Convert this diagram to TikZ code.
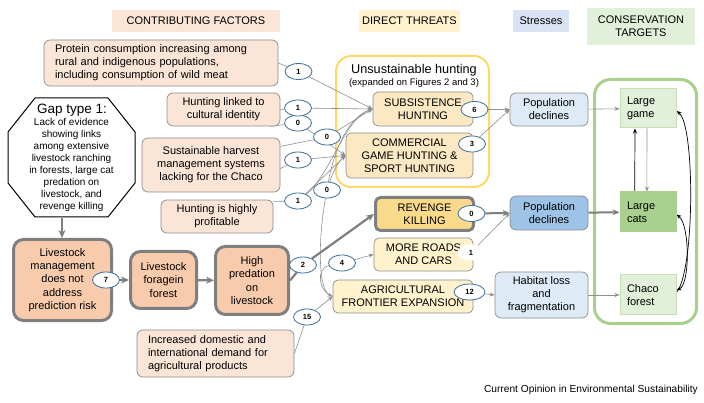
\documentclass[tikz,border=0pt]{standalone}
\usepackage{fontspec}
\setmainfont{Liberation Sans}
\usetikzlibrary{shapes.geometric,arrows.meta}
\definecolor{peachL}{HTML}{FBE5D6}
\definecolor{salmon}{HTML}{F8CBAD}
\definecolor{boxG}{HTML}{8C8C8C}
\definecolor{thickG}{HTML}{7F7F7F}
\definecolor{tanY}{HTML}{FCE9C3}
\definecolor{revY}{HTML}{F9DA8B}
\definecolor{creamL}{HTML}{FFF2CC}
\definecolor{blueL}{HTML}{DEEBF7}
\definecolor{blueM}{HTML}{9DC3E6}
\definecolor{blueH}{HTML}{DAE3F3}
\definecolor{greenL}{HTML}{E2F0D9}
\definecolor{greenB}{HTML}{C5E0B4}
\definecolor{greenM}{HTML}{A9D18E}
\definecolor{yellowB}{HTML}{FFD966}
\definecolor{badgeB}{HTML}{41719C}
\definecolor{lineG}{HTML}{8F8F8F}
\pgfdeclarelayer{back}
\pgfdeclarelayer{conn}
\pgfsetlayers{back,conn,main}
\tikzset{
 sz/.style 2 args={minimum width=#1pt,minimum height=#2pt},
 txt/.style={font=\fontsize{11}{13}\selectfont},
 hdr/.style={fill=#1, inner sep=0pt, font=\fontsize{11}{13}\selectfont, align=center},
 factor/.style={rectangle, draw=boxG, fill=peachL, line width=0.7pt, rounded corners=6pt, txt, align=center, inner sep=2pt},
 lvst/.style={rectangle, draw=thickG, fill=salmon, line width=3pt, rounded corners=10pt, font=\fontsize{11}{13.2}\selectfont, align=center, inner sep=2pt},
 threat/.style={rectangle, draw=boxG, fill=#1, line width=0.7pt, rounded corners=5pt, txt, align=center, inner sep=2pt},
 stress/.style={rectangle, draw=boxG, fill=#1, line width=0.7pt, rounded corners=6pt, txt, align=center, inner sep=2pt},
 target/.style={rectangle, draw=greenB, fill=#1, line width=1pt, txt, align=left, text width=42pt, inner xsep=7pt},
 badge/.style={ellipse, draw=badgeB, fill=white, line width=0.8pt, minimum width=27pt, minimum height=16pt, inner sep=0pt, font=\fontsize{7.5}{8}\selectfont\bfseries},
 conn/.style={draw=lineG, line width=0.6pt, -{Stealth[length=5pt,width=4pt]}},
 cline/.style={draw=lineG, line width=0.6pt},
 heavy/.style={draw=thickG, line width=2.2pt, -{Stealth[length=8pt,width=7pt]}},
 tarrow/.style={draw=black, line width=0.7pt, -{Stealth[length=5pt,width=4pt]}},
}
\begin{document}
\begin{tikzpicture}[x=1pt,y=-1pt]
\useasboundingbox (0,0) rectangle (704,403);
\begin{pgfonlayer}{back}
\fill[white] (0,0) rectangle (704,403);
\node[draw=yellowB, fill=white, line width=2pt, rounded corners=15pt, sz={153}{131}] (hunt) at (412.5,121.5) {};
\node[draw=greenM, line width=3pt, rounded corners=16pt, sz={102}{244}] (tgt) at (645.5,201.5) {};
\end{pgfonlayer}

% headers
\node[hdr=peachL, sz={168}{22}] (hCF) at (196,21) {CONTRIBUTING FACTORS};
\node[hdr=creamL, sz={101}{22}] (hDT) at (409.5,21) {DIRECT THREATS};
\node[hdr=blueH, sz={56}{22}] (hST) at (541,21) {Stresses};
\node[hdr=greenL, sz={108}{37}] (hCT) at (641,26.5) {CONSERVATION\\TARGETS};

% container title
\node[font=\fontsize{12.7}{14}\selectfont, inner sep=0pt] (ht) at (414,70) {Unsustainable hunting};
\node[font=\fontsize{9.5}{11}\selectfont, inner sep=0pt] (hs) at (414,83) {(expanded on Figures 2 and 3)};

% contributing factors
\node[factor, sz={234}{46}, text width=212pt, inner xsep=11pt, align=left] (protein) at (161,63) {Protein consumption increasing among\\rural and indigenous populations,\\including consumption of wild meat};
\node[factor, sz={113}{33}] (cultural) at (223.5,109.5) {Hunting linked to\\cultural identity};
\node[factor, sz={138}{54}] (sustain) at (211,165) {Sustainable harvest\\management systems\\lacking for the Chaco};
\node[factor, sz={112}{33}] (profit) at (217,216.5) {Hunting is highly\\profitable};
\node[factor, sz={157}{47}, text width=135pt, inner xsep=11pt, align=left] (demand) at (215.5,353.5) {Increased domestic and\\international demand for\\agricultural products};

% gap octagon
\draw[black, line width=1pt, fill=white] (35,98) -- (108,98) -- (135,132) -- (135,183) -- (108,217) -- (35,217) -- (8,183) -- (8,132) -- cycle;
\node[font=\fontsize{13.5}{15}\selectfont, inner sep=0pt] (gapT) at (72,110) {Gap type 1:};
\node[font=\fontsize{10}{12.1}\selectfont, align=center, inner sep=0pt] (gap) at (71.5,165) {Lack of evidence\\showing links\\among extensive\\livestock ranching\\in forests, large cat\\predation on\\livestock, and\\revenge killing};
\coordinate (gapbot) at (62,218);

% livestock chain
\node[lvst, sz={98}{81}] (mgmt) at (62.5,280) {Livestock\\management\\does not\\address\\prediction risk};
\node[lvst, sz={66}{57}] (forage) at (163.5,280) {Livestock\\foragein\\forest};
\node[lvst, sz={73}{68}] (pred) at (252,280.5) {High\\predation\\on\\livestock};

% direct threats
\node[threat=tanY, sz={100}{34}] (subs) at (423,109) {SUBSISTENCE\\HUNTING};
\node[threat=tanY, sz={127}{45}] (comm) at (409.5,155.5) {COMMERCIAL\\GAME HUNTING \&\\SPORT HUNTING};
\node[threat=revY, draw=thickG, line width=3pt, sz={98}{33}] (revenge) at (424.5,214) {REVENGE\\KILLING};
\node[threat=creamL, sz={99}{33}] (roads) at (423.5,254.5) {MORE ROADS\\AND CARS};
\node[threat=creamL, sz={140}{33}] (agri) at (403,296.5) {AGRICULTURAL\\FRONTIER EXPANSION};

% stresses
\node[stress=blueL, sz={78}{33}] (popT) at (549,109.5) {Population\\declines};
\node[stress=blueM, sz={78}{34}] (popM) at (549,213) {Population\\declines};
\node[stress=blueL, sz={93}{46}] (hab) at (541.5,295) {Habitat loss\\and\\fragmentation};

% targets
\node[target=greenL, sz={56}{39}] (game) at (648,108.5) {Large\\game};
\node[target=greenM, draw=greenM, sz={56}{40}] (cats) at (648,212) {Large\\cats};
\node[target=greenL, sz={56}{40}] (chaco) at (648,295) {Chaco\\forest};

% badges
\node[badge] (b1a) at (298.5,71.5) {1};
\node[badge] (b0a) at (298,123) {0};
\node[badge] (b1b) at (298,108) {1};
\node[badge] (b0b) at (327,137) {0};
\node[badge] (b1c) at (298,160) {1};
\node[badge] (b0c) at (327,190) {0};
\node[badge] (b1d) at (298,201) {1};
\node[badge] (b7) at (106,280) {7};
\node[badge] (b2) at (303,265) {2};
\node[badge] (b4) at (342,263) {4};
\node[badge] (b15) at (307,317) {15};
\node[badge] (b6) at (474.5,109.5) {6};
\node[badge] (b3) at (472,144) {3};
\node[badge] (b0r) at (471.5,213.5) {0};
\node[badge, draw=none] (b1r) at (471,252.5) {1};
\node[badge, minimum width=31pt] (b12) at (469.5,292) {12};

% source
\node[anchor=east, font=\fontsize{10.2}{12}\selectfont, inner sep=0pt] (src) at (698,390) {Current Opinion in Environmental Sustainability};

% connectors
\begin{pgfonlayer}{conn}
\draw[heavy] (gapbot) -- (mgmt.north -| gapbot);
\draw[heavy] (mgmt) -- (forage);
\draw[heavy] (forage) -- (pred);
\draw[conn] (protein.east) -- (b1a) -- (subs.west);
\draw[conn] (cultural.east) -- (b1b) -- (subs.west);
\draw[conn] (cultural.-20) -- (b0a) -- (comm.west);
\draw[conn] (sustain.15) -- (b0b) -- (subs.west);
\draw[conn] (sustain.-3) -- (b1c) -- (comm.west);
\draw[conn] (profit.15) -- (b1d) -- (comm.west);
\draw[conn] (b1d) .. controls (330,175) and (345,118) .. (subs.west);
\draw[conn] (b0c) .. controls (332,160) and (345,118) .. (subs.west);
\draw[conn] (b0c) .. controls (333,172) and (338,162) .. (comm.west);
\draw[conn] (b0c) .. controls (318,240) and (318,290) .. (agri.west);
\draw[cline] (agri.west) .. controls (318,292) and (316,268) .. (b4);
\draw[conn] (b4) -- (roads.west);
\draw[conn] (demand.east) -- (b15) -- (agri.west);
\draw[heavy] (pred.east) -- (b2) -- (revenge.west);
\draw[conn] (b6) -- (popT.west);
\draw[conn] (b3) -- (popT.west);
\draw[heavy, line width=2pt, -{Stealth[length=7pt,width=6pt]}] (b0r) -- (popM.west);
\draw[conn] (b1r) -- (popM.west);
\draw[conn] (b12) -- (hab.west);
\draw[conn] (popT) -- (game);
\draw[heavy, line width=2pt, -{Stealth[length=7pt,width=6pt]}] (popM) -- (cats);
\draw[conn] (hab) -- (chaco);
\draw[tarrow] (cats.123) -- (game.-123);
\draw[conn] (game.-93) -- (cats.93);
\draw[tarrow] (chaco.5) .. controls (695,270) and (695,125) .. (game.-5);
\draw[tarrow, {Stealth[length=5pt,width=4pt]}-{Stealth[length=5pt,width=4pt]}] (cats.-5) .. controls (690,225) and (690,285) .. (chaco.10);
\end{pgfonlayer}
\end{tikzpicture}
\end{document}
